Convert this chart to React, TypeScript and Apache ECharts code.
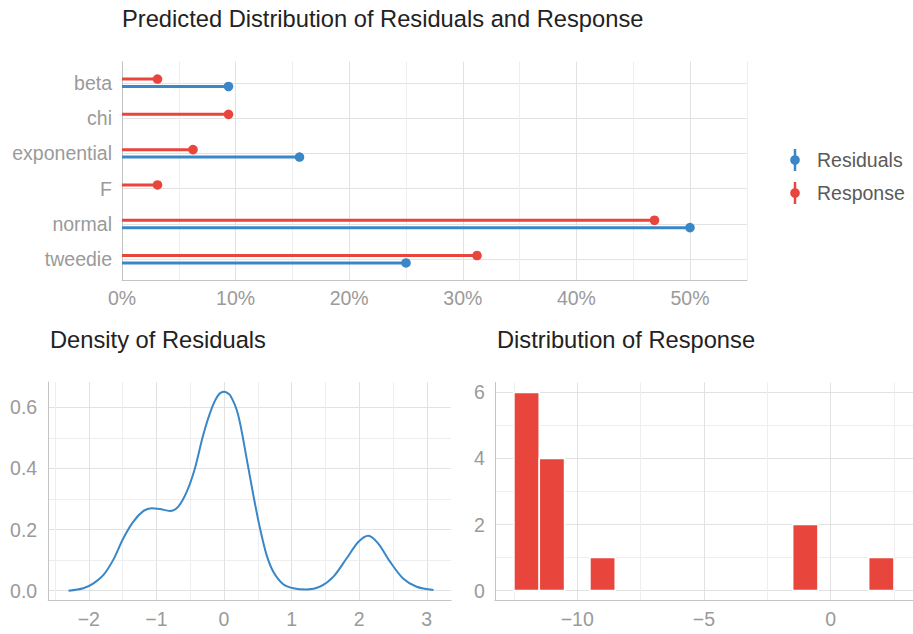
import React, { useEffect, useRef } from "react";
import * as echarts from "echarts";

// ---------- data ----------
const categories = ["beta", "chi", "exponential", "F", "normal", "tweedie"];
const responsePct: (number | null)[] = [3.125, 9.375, 6.25, 3.125, 46.875, 31.25];
const residualPct: (number | null)[] = [9.375, null, 15.625, null, 50, 25];

const densityX = [
  -2.3, -2.08, -1.93, -1.785, -1.64, -1.49, -1.34, -1.19, -1.07, -0.947, -0.8, -0.676,
  -0.55, -0.43, -0.306, -0.18, -0.084, 0.0, 0.089, 0.21, 0.335, 0.434, 0.533, 0.63,
  0.73, 0.877, 1.025, 1.22, 1.42, 1.62, 1.815, 1.99, 2.135, 2.28, 2.456, 2.65, 2.85, 3.1,
];
const densityY = [
  0.0, 0.008, 0.024, 0.051, 0.1, 0.171, 0.226, 0.261, 0.27, 0.267, 0.261, 0.275,
  0.324, 0.4, 0.51, 0.597, 0.64, 0.651, 0.64, 0.575, 0.433, 0.313, 0.204, 0.117,
  0.062, 0.021, 0.008, 0.004, 0.013, 0.046, 0.106, 0.16, 0.18, 0.155, 0.095, 0.04, 0.013, 0.002,
];

const binStart = [-12.5, -11.5, -9.5, -1.5, 1.5];
const binEnd = [-11.5, -10.5, -8.5, -0.5, 2.5];
const binCount = [6, 4, 1, 2, 1];

// tick labels / grid breaks
const topLabelTicks = [0, 10, 20, 30, 40, 50];
const topGridTicks = [0, 5, 10, 15, 20, 25, 30, 35, 40, 45, 50, 55];
const catTicks = [0, 1, 2, 3, 4, 5];
const densXLabels = [-2, -1, 0, 1, 2, 3];
const densXGrid = [-2.5, -2, -1.5, -1, -0.5, 0, 0.5, 1, 1.5, 2, 2.5, 3];
const densYLabels = [0, 0.2, 0.4, 0.6];
const densYGrid = [0, 0.1, 0.2, 0.3, 0.4, 0.5, 0.6];
const histXLabels = [-10, -5, 0];
const histXGrid = [-12.5, -10, -7.5, -5, -2.5, 0, 2.5];
const histYLabels = [0, 2, 4, 6];
const histYGrid = [0, 1, 2, 3, 4, 5, 6];

// ---------- styles ----------
const RED = "#E8453C";
const BLUE = "#3A87C8";
const FONT = '"Liberation Sans", Arial, Helvetica, sans-serif';
const MAJOR = "#e2e2e2";
const MINOR = "#eeeeee";
const AXIS = "#c4c4c4";
const LABEL = "#9a9a9a";
const TITLE_SIZE = 23.7;
const LABEL_SIZE = 19.5;

const minus = (v: number) => (v < 0 ? "\u2212" + Math.abs(v) : String(v));

function lollipop(name: string, values: (number | null)[], color: string, offset: number) {
  const data: number[][] = [];
  values.forEach((v, i) => {
    if (v !== null) data.push([i, v]);
  });
  return {
    type: "custom",
    name,
    xAxisIndex: 0,
    yAxisIndex: 0,
    encode: { x: 1, y: 0 },
    data,
    renderItem: (_p: any, api: any) => {
      const idx = api.value(0);
      const v = api.value(1);
      const p = api.coord([v, idx]);
      const p0 = api.coord([0, idx]);
      const y = p[1] + offset;
      return {
        type: "group",
        children: [
          { type: "line", shape: { x1: p0[0], y1: y, x2: p[0], y2: y }, style: { stroke: color, lineWidth: 3 } },
          { type: "circle", shape: { cx: p[0], cy: y, r: 4.8 }, style: { fill: color } },
        ],
      };
    },
  };
}

function valueAxis(extra: any, labelVals: number[], gridVals: number[], colors: string[], fmt: (v: number) => string, margin: number) {
  return {
    type: "value",
    axisLine: { show: true, onZero: false, lineStyle: { color: AXIS, width: 1 } },
    axisTick: { show: false, customValues: gridVals },
    axisLabel: {
      customValues: labelVals,
      formatter: fmt,
      color: LABEL,
      fontSize: LABEL_SIZE,
      fontFamily: FONT,
      margin,
    },
    splitLine: { show: true, lineStyle: { color: colors, width: 1 } },
    ...extra,
  };
}

export default function App() {
  const ref = useRef<HTMLDivElement>(null);
  useEffect(() => {
    if (!ref.current) return;
    const chart = echarts.init(ref.current, null, { renderer: "svg" });
    const titleStyle = { fontSize: TITLE_SIZE, fontFamily: FONT, fill: "#222222", align: "left", verticalAlign: "middle" };
    const legendStyle = { fontSize: LABEL_SIZE, fontFamily: FONT, fill: "#5a5a5a", align: "left", verticalAlign: "middle" };
    const option: any = {
      animation: false,
      backgroundColor: "#ffffff",
      textStyle: { fontFamily: FONT },
      grid: [
        { left: 122, top: 61.6, width: 624.8, height: 218.8 },
        { left: 48.2, top: 382.1, width: 402.9, height: 218.5 },
        { left: 494.9, top: 382.5, width: 423.5, height: 218 },
      ],
      xAxis: [
        valueAxis({ gridIndex: 0, min: 0, max: 55 }, topLabelTicks, topGridTicks, [MAJOR, MINOR], (v) => v + "%", 8),
        valueAxis({ gridIndex: 1, min: -2.6, max: 3.36 }, densXLabels, densXGrid, [MINOR, MAJOR], minus, 8),
        valueAxis({ gridIndex: 2, min: -13.25, max: 3.25 }, histXLabels, histXGrid, [MINOR, MAJOR], minus, 8),
      ],
      yAxis: [
        valueAxis({ gridIndex: 0, min: -0.6, max: 5.6, inverse: true }, catTicks, catTicks, [MAJOR], (v) => categories[Math.round(v)] ?? "", 10),
        valueAxis({ gridIndex: 1, min: -0.0325, max: 0.6825 }, densYLabels, densYGrid, [MAJOR, MINOR], (v) => v.toFixed(1), 11),
        valueAxis({ gridIndex: 2, min: -0.3, max: 6.3 }, histYLabels, histYGrid, [MAJOR, MINOR], (v) => String(v), 10),
      ],
      series: [
        lollipop("Residuals", residualPct, BLUE, 3.7),
        lollipop("Response", responsePct, RED, -3.7),
        {
          type: "line",
          xAxisIndex: 1,
          yAxisIndex: 1,
          data: densityX.map((x, i) => [x, densityY[i]]),
          showSymbol: false,
          smooth: 0.3,
          lineStyle: { color: BLUE, width: 2 },
        },
        {
          type: "custom",
          xAxisIndex: 2,
          yAxisIndex: 2,
          encode: { x: [0, 1], y: 2 },
          data: binStart.map((s, i) => [s, binEnd[i], binCount[i]]),
          renderItem: (_p: any, api: any) => {
            const a = api.coord([api.value(0), api.value(2)]);
            const b = api.coord([api.value(1), 0]);
            return {
              type: "rect",
              shape: { x: a[0], y: a[1], width: b[0] - a[0], height: b[1] - a[1] },
              style: { fill: RED, stroke: "#ffffff", lineWidth: 1.6 },
            };
          },
        },
      ],
      graphic: [
        { type: "text", x: 122, y: 19, style: { text: "Predicted Distribution of Residuals and Response", ...titleStyle } },
        { type: "text", x: 50, y: 340, style: { text: "Density of Residuals", ...titleStyle } },
        { type: "text", x: 497, y: 340, style: { text: "Distribution of Response", ...titleStyle } },
        { type: "line", shape: { x1: 795, y1: 149, x2: 795, y2: 171 }, style: { stroke: BLUE, lineWidth: 2.5 } },
        { type: "circle", shape: { cx: 795, cy: 160, r: 4.8 }, style: { fill: BLUE } },
        { type: "text", x: 817, y: 160, style: { text: "Residuals", ...legendStyle } },
        { type: "line", shape: { x1: 795, y1: 182, x2: 795, y2: 204 }, style: { stroke: RED, lineWidth: 2.5 } },
        { type: "circle", shape: { cx: 795, cy: 193, r: 4.8 }, style: { fill: RED } },
        { type: "text", x: 817, y: 193, style: { text: "Response", ...legendStyle } },
      ],
    };
    chart.setOption(option);
    return () => chart.dispose();
  }, []);
  return <div ref={ref} style={{ position: "absolute", left: 0, top: 0, width: 913, height: 634 }} />;
}
